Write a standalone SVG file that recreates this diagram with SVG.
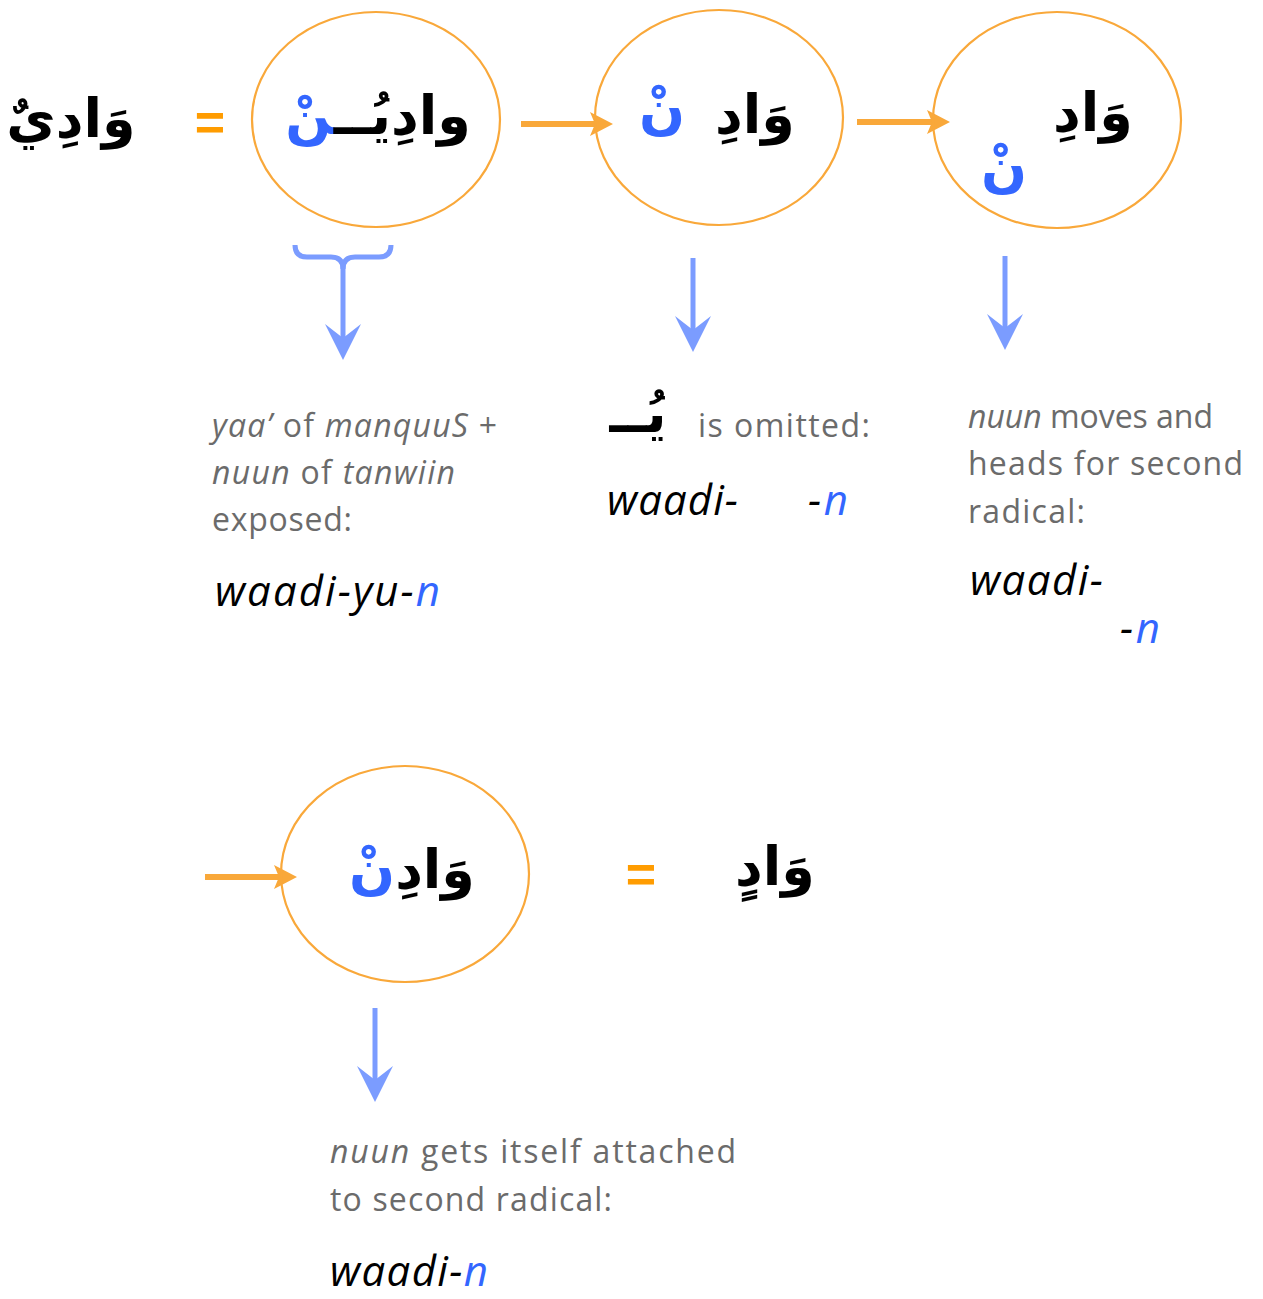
<svg xmlns="http://www.w3.org/2000/svg" width="1263" height="1299" viewBox="0 0 1263 1299">
  <defs>
    <style>
      .ring { fill: none; stroke: #f9a83a; stroke-width: 2.2; }
      .flow { stroke: #f9a83a; stroke-width: 6; fill: none; }
      .flowhead { fill: #f9a83a; }
      .drop { stroke: #7b9cff; stroke-width: 5; fill: none; stroke-linecap: butt; }
      .drophead { fill: #7b9cff; }
      .ar { font-family: "DejaVu Sans", sans-serif; font-weight: bold; font-size: 54px; fill: #000; }
      .nun { fill: #3366ff; }
      .eq { font-family: "Liberation Sans", sans-serif; font-weight: bold; font-size: 52px; fill: #ff9c00; }
      .note { font-family: "Open Sans", "Liberation Sans", sans-serif; font-size: 32px; fill: #6b6b6b; }
      .it { font-style: italic; }
      .tr { font-family: "Open Sans", "Liberation Sans", sans-serif; font-style: italic; font-size: 42px; fill: #000; }
      .blue { fill: #3366ff; }
    </style>
  </defs>

  <!-- connectors -->
  <g id="connectors">
    <!-- orange flow arrows -->
    <line class="flow" x1="521" y1="124" x2="597" y2="124"/>
    <path class="flowhead" d="M613,124 L590,112 L595,124 L590,136 Z"/>
    <line class="flow" x1="857" y1="122" x2="934" y2="122"/>
    <path class="flowhead" d="M950,122 L927,110 L932,122 L927,134 Z"/>
    <line class="flow" x1="205" y1="877" x2="281" y2="877"/>
    <path class="flowhead" d="M297,877 L274,865 L279,877 L274,889 Z"/>

    <!-- bracket and downward arrows -->
    <path class="drop" d="M295,245 Q295,257 307,257 H331 Q343,257 343,269 M343,269 Q343,257 355,257 H379 Q391,257 391,245"/>
    <line class="drop" x1="343" y1="262" x2="343" y2="342"/>
    <path class="drophead" d="M343,360 L325,324 L343,338 L361,324 Z"/>

    <line class="drop" x1="693" y1="258" x2="693" y2="334"/>
    <path class="drophead" d="M693,352 L675,316 L693,330 L711,316 Z"/>

    <line class="drop" x1="1005" y1="256" x2="1005" y2="332"/>
    <path class="drophead" d="M1005,350 L987,314 L1005,328 L1023,314 Z"/>

    <line class="drop" x1="375" y1="1008" x2="375" y2="1084"/>
    <path class="drophead" d="M375,1102 L357,1066 L375,1080 L393,1066 Z"/>
  </g>

  <!-- starting word -->
  <g id="word-start">
    <text class="ar" x="71" y="137" text-anchor="middle" direction="rtl">وَادِيٌ</text>
    <text class="eq" x="210" y="140" text-anchor="middle">=</text>
  </g>

  <!-- step 1: yaa and nuun exposed -->
  <g id="step-exposed">
    <ellipse class="ring" cx="376" cy="119.5" rx="124" ry="107.5"/>
    <text class="ar" x="378" y="134" text-anchor="middle" direction="rtl">وادِيُــ<tspan class="nun">نْ</tspan></text>
  </g>

  <!-- step 2: yaa omitted -->
  <g id="step-omitted">
    <ellipse class="ring" cx="719" cy="117.5" rx="124" ry="107.5"/>
    <text class="ar" x="755" y="133" text-anchor="middle" direction="rtl">وَادِ</text>
    <text class="ar nun" x="662" y="128" text-anchor="middle" direction="rtl">نْ</text>
  </g>

  <!-- step 3: nuun moves -->
  <g id="step-moves">
    <ellipse class="ring" cx="1057" cy="120" rx="124" ry="108"/>
    <text class="ar" x="1093" y="131" text-anchor="middle" direction="rtl">وَادِ</text>
    <text class="ar nun" x="1004" y="186" text-anchor="middle" direction="rtl">نْ</text>
  </g>

  <!-- step 4: nuun attached -->
  <g id="step-attached">
    <ellipse class="ring" cx="405" cy="874" rx="124" ry="108"/>
    <text class="ar" x="412" y="888" text-anchor="middle" direction="rtl" font-size="51">وَادِ<tspan class="nun">نْ</tspan></text>
  </g>

  <!-- result -->
  <g id="word-result">
    <text class="eq" x="641" y="892" text-anchor="middle">=</text>
    <text class="ar" x="775" y="885" text-anchor="middle" direction="rtl">وَادٍ</text>
  </g>

  <!-- explanation 1 -->
  <g id="note-exposed">
    <text class="note" x="212" y="437" textLength="285"><tspan class="it">yaa’</tspan> of  <tspan class="it">manquuS</tspan> +</text>
    <text class="note" x="212" y="484" textLength="243"><tspan class="it">nuun</tspan> of  <tspan class="it">tanwiin</tspan></text>
    <text class="note" x="212" y="531" textLength="140">exposed:</text>
    <text class="tr" x="215" y="606" textLength="225">waadi-yu-<tspan class="blue">n</tspan></text>
  </g>

  <!-- explanation 2 -->
  <g id="note-omitted">
    <text class="ar" x="638" y="432" text-anchor="middle" direction="rtl" font-size="46">يُــ</text>
    <text class="note" x="698" y="437" textLength="172">is omitted:</text>
    <text class="tr" x="607" y="515" textLength="131">waadi-</text>
    <text class="tr" x="808" y="515" textLength="40">-<tspan class="blue">n</tspan></text>
  </g>

  <!-- explanation 3 -->
  <g id="note-moves">
    <text class="note" x="968" y="428" textLength="245"><tspan class="it">nuun</tspan> moves and</text>
    <text class="note" x="968" y="475" textLength="275">heads for second</text>
    <text class="note" x="968" y="523" textLength="117">radical:</text>
    <text class="tr" x="970" y="595" textLength="133">waadi-</text>
    <text class="tr" x="1120" y="643" textLength="40">-<tspan class="blue">n</tspan></text>
  </g>

  <!-- explanation 4 -->
  <g id="note-attached">
    <text class="note" x="330" y="1163" textLength="406"><tspan class="it">nuun</tspan> gets itself attached</text>
    <text class="note" x="330" y="1211" textLength="282">to second radical:</text>
    <text class="tr" x="330" y="1286" textLength="158">waadi-<tspan class="blue">n</tspan></text>
  </g>
</svg>
